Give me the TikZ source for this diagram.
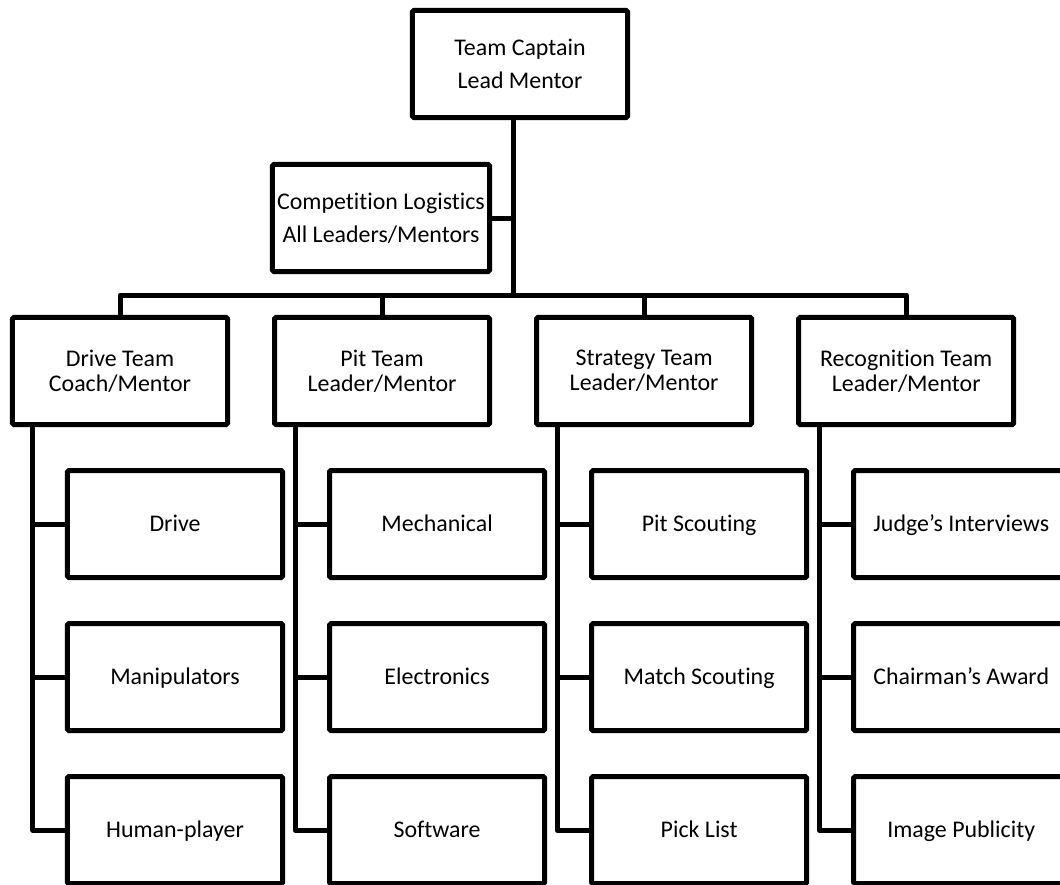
\documentclass[tikz,border=0pt]{standalone}
\usepackage{fontspec}
\setmainfont[Ligatures=NoCommon]{Carlito}
\usetikzlibrary{positioning}

\begin{document}
\begin{tikzpicture}[
    x=0.025cm, y=-0.025cm,
    box/.style={
        rectangle, rounded corners=1pt,
        minimum width=5.375cm,
        minimum height=2.675cm,
        draw=black, line width=0.125cm,
        align=center,
        font=\fontsize{17pt}{17.8pt}\selectfont
    },
    headbox/.style={box, font=\fontsize{17pt}{23.5pt}\selectfont},
    subbox/.style={box, text height=13pt, text depth=3pt},
    link/.style={line width=0.125cm, line join=round},
    node distance=1.025cm and 1.05cm     % vertical and horizontal gaps
]
\clip (0,0) rectangle (1060,884);

% --- TOP: captain and logistics ---
\node[headbox] (captain) at (520,64) {Team Captain\\Lead Mentor};
\node[headbox] (logistics) at (381,218) {Competition Logistics\\All Leaders/Mentors};
\coordinate (hub) at (513,295);

% --- ROW 1: the four teams ---
\node[box] at (120,371) (drive) {Drive Team\\Coach/Mentor};
\node[box, right=of drive] (pit) {Pit Team\\Leader/Mentor};
\node[box, right=of pit] (strat) {Strategy Team\\Leader/Mentor};
\node[box, right=of strat] (recog) {Recognition Team\\Leader/Mentor};

% --- ROWS 2-4: the sub-groups under each team ---
\node[subbox, below=of drive, xshift=1.375cm] (drive1) {Drive};
\node[subbox, below=of drive1] (drive2) {Manipulators};
\node[subbox, below=of drive2] (drive3) {Human-player};

\node[subbox, below=of pit, xshift=1.375cm] (pit1) {Mechanical};
\node[subbox, below=of pit1] (pit2) {Electronics};
\node[subbox, below=of pit2] (pit3) {Software};

\node[subbox, below=of strat, xshift=1.375cm] (strat1) {Pit Scouting};
\node[subbox, below=of strat1] (strat2) {Match Scouting};
\node[subbox, below=of strat2] (strat3) {Pick List};

\node[subbox, below=of recog, xshift=1.375cm] (recog1) {Judge’s Interviews};
\node[subbox, below=of recog1] (recog2) {Chairman’s Award};
\node[subbox, below=of recog2] (recog3) {Image Publicity};

% --- LINES ---
% 1. Captain -> bus, logistics on the side
\draw[link] (hub |- captain.south) -- (hub);
\draw[link] (logistics.east) -- (logistics.east -| hub);

% 2. Bus -> the four teams
\draw[link] (drive.north) -- (drive.north |- hub) -- (recog.north |- hub) -- (recog.north);
\draw[link] (pit.north) -- (pit.north |- hub);
\draw[link] (strat.north) -- (strat.north |- hub);

% 3. Team spines -> sub-groups
\coordinate (driveSpine) at ([xshift=0.575cm]drive.south west);
\coordinate (pitSpine) at ([xshift=0.575cm]pit.south west);
\coordinate (stratSpine) at ([xshift=0.575cm]strat.south west);
\coordinate (recogSpine) at ([xshift=0.575cm]recog.south west);

\draw[link] (driveSpine) |- (drive3.west);
\draw[link] (drive1.west) -- (drive1.west -| driveSpine);
\draw[link] (drive2.west) -- (drive2.west -| driveSpine);

\draw[link] (pitSpine) |- (pit3.west);
\draw[link] (pit1.west) -- (pit1.west -| pitSpine);
\draw[link] (pit2.west) -- (pit2.west -| pitSpine);

\draw[link] (stratSpine) |- (strat3.west);
\draw[link] (strat1.west) -- (strat1.west -| stratSpine);
\draw[link] (strat2.west) -- (strat2.west -| stratSpine);

\draw[link] (recogSpine) |- (recog3.west);
\draw[link] (recog1.west) -- (recog1.west -| recogSpine);
\draw[link] (recog2.west) -- (recog2.west -| recogSpine);

\end{tikzpicture}
\end{document}
